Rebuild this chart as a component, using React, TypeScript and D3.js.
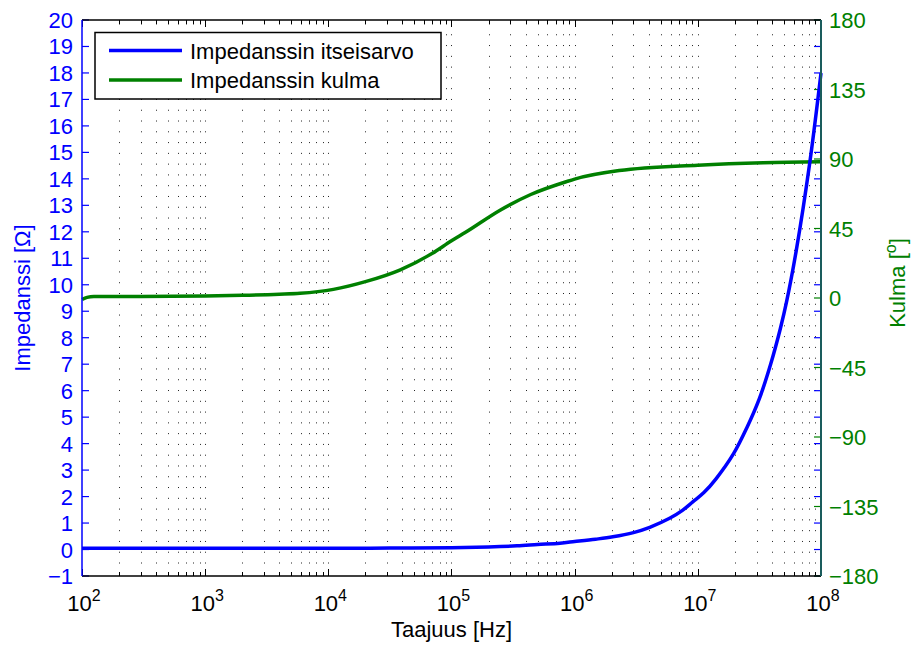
import React, { useEffect, useRef } from "react";
import * as d3 from "d3";

// Impedance magnitude |Z| [ohm]
const impFreq = [
  1e2, 1e3, 1e4, 3.16e4, 1e5, 2e5, 3.4e5, 5e5, 7.6e5, 1e6, 1.48e6, 2.04e6, 3e6, 4.07e6, 5.9e6, 7.5e6, 9.1e6,
  1.12e7, 1.41e7, 1.95e7, 2.5e7, 3.16e7, 3.9e7, 4.68e7, 5.25e7, 6.3e7, 8.1e7, 1e8,
];
const impValue = [
  0.05, 0.05, 0.05, 0.055, 0.07, 0.1, 0.14, 0.19, 0.24, 0.3, 0.39, 0.48, 0.64, 0.84, 1.18, 1.48, 1.8,
  2.15, 2.68, 3.62, 4.6, 5.7, 7.0, 8.35, 9.35, 11.3, 14.6, 18.0,
];

// Impedance angle [deg]
const angFreq = [
  100, 110, 125, 300, 1e3, 2e3, 4e3, 5.9e3, 1.1e4, 2e4, 3.8e4, 7e4, 1e5, 1.3e5, 2.5e5, 4.4e5, 8.7e5, 1e6,
  2.3e6, 1e7, 3.4e7, 1e8,
];
const angValue = [
  -1, 0.4, 0.9, 1.0, 1.3, 1.7, 2.4, 3.0, 5.6, 10.6, 18.1, 28.9, 37, 42.5, 57, 67, 75.5, 77, 82.5, 86, 87.6, 88.2,
];

const leftTicks = d3.range(-1, 21, 1);
const rightTicks = [-180, -135, -90, -45, 0, 45, 90, 135, 180];
const decades = [2, 3, 4, 5, 6, 7, 8];
const legendLabels = ["Impedanssin itseisarvo", "Impedanssin kulma"];

const BLUE = "#0000ff";
const GREEN = "#008000";
const FONT = "'Liberation Sans', Arial, Helvetica, sans-serif";

const App = () => {
  const ref = useRef<SVGSVGElement | null>(null);

  useEffect(() => {
    const width = 913;
    const height = 646;
    const m = { top: 20, right: 92, bottom: 70, left: 82 };
    const x0 = m.left;
    const x1 = width - m.right;
    const y0 = height - m.bottom;
    const y1 = m.top;

    const svg = d3.select(ref.current);
    svg.selectAll("*").remove();

    const x = d3.scaleLog().domain([1e2, 1e8]).range([x0, x1]);
    const yL = d3.scaleLinear().domain([-1, 20]).range([y0, y1]);
    const yR = d3.scaleLinear().domain([-180, 180]).range([y0, y1]);

    // all log ticks (major + minor) inside the range
    const allTicks: number[] = [];
    for (let e = 2; e < 8; e++) {
      for (let k = 1; k <= 9; k++) allTicks.push(k * Math.pow(10, e));
    }
    allTicks.push(1e8);

    // dotted vertical grid
    const grid = svg.append("g");
    allTicks
      .filter((t) => t > 1e2 && t < 1e8)
      .forEach((t) => {
        const px = Math.round(x(t)) + 0.5;
        grid
          .append("line")
          .attr("x1", px)
          .attr("x2", px)
          .attr("y1", y0 - 12.5)
          .attr("y2", y1)
          .attr("stroke", "#222")
          .attr("stroke-width", 1)
          .attr("stroke-dasharray", "1 9.78");
      });

    // x ticks, bottom and top
    const xt = svg.append("g");
    allTicks.forEach((t) => {
      const major = Math.abs(Math.log10(t) - Math.round(Math.log10(t))) < 1e-9;
      const len = major ? 7 : 4;
      const px = Math.round(x(t)) + 0.5;
      xt.append("line").attr("x1", px).attr("x2", px).attr("y1", y0).attr("y2", y0 - len).attr("stroke", "#000");
      xt.append("line").attr("x1", px).attr("x2", px).attr("y1", y1).attr("y2", y1 + len).attr("stroke", "#000");
    });

    // left ticks (blue) on both sides
    leftTicks.forEach((v) => {
      const py = yL(v);
      svg.append("line").attr("x1", x0).attr("x2", x0 + 7).attr("y1", py).attr("y2", py).attr("stroke", BLUE).attr("stroke-width", 1.2);
      svg.append("line").attr("x1", x1).attr("x2", x1 - 7).attr("y1", py).attr("y2", py).attr("stroke", BLUE).attr("stroke-width", 1.2);
    });
    // right ticks (green)
    rightTicks.forEach((v) => {
      const py = yR(v);
      svg.append("line").attr("x1", x1).attr("x2", x1 - 7).attr("y1", py).attr("y2", py).attr("stroke", GREEN).attr("stroke-width", 1.2);
    });

    // curves
    const lineImp = d3
      .line<number>()
      .x((_, i) => x(impFreq[i]))
      .y((d) => yL(d))
      .curve(d3.curveCatmullRom.alpha(0.5));
    const lineAng = d3
      .line<number>()
      .x((_, i) => x(angFreq[i]))
      .y((d) => yR(d))
      .curve(d3.curveMonotoneX);

    svg
      .append("path")
      .datum(angValue)
      .attr("fill", "none")
      .attr("stroke", GREEN)
      .attr("stroke-width", 3.5)
      .attr("d", lineAng);

    svg
      .append("path")
      .datum(impValue)
      .attr("fill", "none")
      .attr("stroke", BLUE)
      .attr("stroke-width", 3.5)
      .attr("d", lineImp);

    // axes lines
    svg.append("line").attr("x1", x0).attr("x2", x1).attr("y1", y0).attr("y2", y0).attr("stroke", "#000").attr("stroke-width", 1.5);
    svg.append("line").attr("x1", x0).attr("x2", x1).attr("y1", y1).attr("y2", y1).attr("stroke", "#000").attr("stroke-width", 1.5);
    svg.append("line").attr("x1", x0).attr("x2", x0).attr("y1", y0).attr("y2", y1).attr("stroke", BLUE).attr("stroke-width", 1.5);
    svg.append("line").attr("x1", x1).attr("x2", x1).attr("y1", y0).attr("y2", y1).attr("stroke", "#1a5c5c").attr("stroke-width", 2);

    // left tick labels
    leftTicks.forEach((v) => {
      svg
        .append("text")
        .attr("x", x0 - 9)
        .attr("y", yL(v) + 8)
        .attr("text-anchor", "end")
        .attr("font-family", FONT)
        .attr("font-size", 22)
        .attr("fill", BLUE)
        .text(v < 0 ? `\u2212${Math.abs(v)}` : `${v}`);
    });

    // right tick labels
    rightTicks.forEach((v) => {
      svg
        .append("text")
        .attr("x", x1 + 8)
        .attr("y", yR(v) + 8)
        .attr("text-anchor", "start")
        .attr("font-family", FONT)
        .attr("font-size", 22)
        .attr("fill", GREEN)
        .text(v < 0 ? `\u2212${Math.abs(v)}` : `${v}`);
    });

    // x tick labels 10^n
    decades.forEach((e) => {
      const t = svg
        .append("text")
        .attr("x", x(Math.pow(10, e)) + 2)
        .attr("y", 611)
        .attr("text-anchor", "middle")
        .attr("font-family", FONT)
        .attr("font-size", 22)
        .attr("fill", "#000");
      t.append("tspan").text("10");
      t.append("tspan").attr("dy", -10).attr("font-size", 16).text(`${e}`);
    });

    // axis titles
    svg
      .append("text")
      .attr("x", (x0 + x1) / 2)
      .attr("y", 637)
      .attr("text-anchor", "middle")
      .attr("font-family", FONT)
      .attr("font-size", 22)
      .text("Taajuus [Hz]");

    svg
      .append("text")
      .attr("transform", `translate(30,${(y0 + y1) / 2}) rotate(-90)`)
      .attr("text-anchor", "middle")
      .attr("font-family", FONT)
      .attr("font-size", 22)
      .attr("fill", BLUE)
      .text("Impedanssi [\u03a9]");

    const kt = svg
      .append("text")
      .attr("transform", `translate(905,283) rotate(-90)`)
      .attr("text-anchor", "middle")
      .attr("font-family", FONT)
      .attr("font-size", 22)
      .attr("fill", GREEN);
    kt.append("tspan").text("Kulma [");
    kt.append("tspan").attr("dy", -9).attr("font-size", 16).text("o");
    kt.append("tspan").attr("dy", 9).text("]");

    // legend
    const lg = svg.append("g");
    lg.append("rect")
      .attr("x", 95)
      .attr("y", 32.5)
      .attr("width", 346)
      .attr("height", 66.5)
      .attr("fill", "#fff")
      .attr("stroke", "#000")
      .attr("stroke-width", 1.5);
    [BLUE, GREEN].forEach((c, i) => {
      const ly = 50.5 + i * 29.5;
      lg.append("line").attr("x1", 109).attr("x2", 182).attr("y1", ly).attr("y2", ly).attr("stroke", c).attr("stroke-width", 3.5);
      lg.append("text")
        .attr("x", 190)
        .attr("y", ly + 8)
        .attr("font-family", FONT)
        .attr("font-size", 22)
        .attr("fill", "#000")
        .text(legendLabels[i]);
    });
  }, []);

  return (
    <svg
      ref={ref}
      width={913}
      height={646}
      style={{ position: "absolute", left: 0, top: 0, background: "#fff" }}
    />
  );
};

export default App;
